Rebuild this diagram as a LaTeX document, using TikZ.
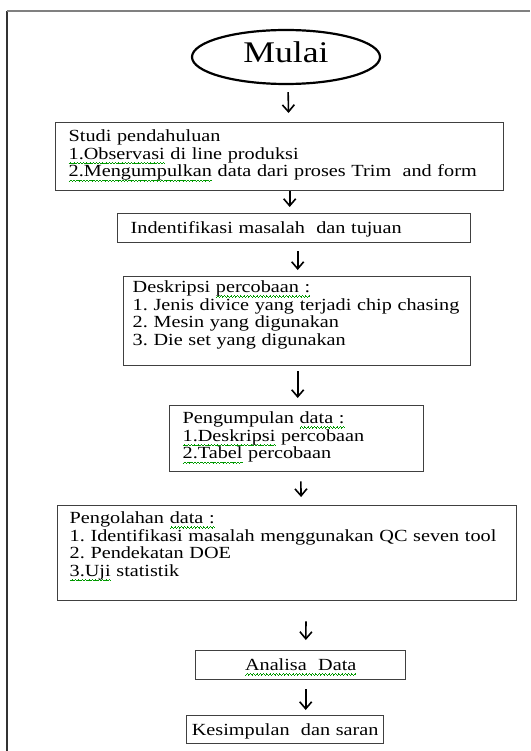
\documentclass[tikz,border=0pt]{standalone}
\usepackage{fontspec}
\setmainfont{Liberation Serif}[FakeStretch=1.19]
\usetikzlibrary{shapes.geometric,arrows.meta}
\frenchspacing
\hyphenpenalty=10000

\newsavebox{\spellbox}
\newcommand{\spell}[1]{\leavevmode\sbox{\spellbox}{#1}\rlap{\textcolor{green!60!black}{\hbox to \wd\spellbox{\xleaders\hbox{\rule[-4.6pt]{0.8pt}{0.7pt}\rule[-4pt]{0.8pt}{0.7pt}\rule[-3.4pt]{0.8pt}{0.7pt}\rule[-4pt]{0.8pt}{0.7pt}}\hfill}}}#1}

\begin{document}
\begin{tikzpicture}[
		x=1pt, y=-1pt,
		box/.style={rectangle, draw=black!75, line width=1.4pt, inner xsep=13pt, inner ysep=0pt, anchor=north west, align=left, font=\fontsize{17pt}{17.6pt}\selectfont},
		startnode/.style={ellipse, draw, line width=2.2pt, minimum width=188pt, minimum height=54pt, inner sep=0pt, font=\fontsize{30pt}{32pt}\selectfont},
		arr/.style={-{Straight Barb[length=7pt,width=12pt]}, line width=1.6pt}
	]
  \useasboundingbox (0,0) rectangle (530,751);
  \draw [black!80, line width=1.5pt] (7,751) -- (7,11);
  \draw [black!50, line width=1.5pt] (7,11) -- (530,11);
  \node (mulai) [startnode, text depth=10pt] at (286,57) {Mulai};
  \node (studi) [box, text width=422pt, text height=19pt, text depth=49pt] at (55,122) {Studi pendahuluan\\ \spell{1.Observasi} di line produksi\\ \spell{2.Mengumpulkan} data dari proses Trim\ \ and form};
  \node (ident) [box, text width=327pt, text height=20pt, text depth=9pt] at (117,213) {Indentifikasi masalah\ \ dan tujuan};
  \node (desk) [box, inner xsep=9pt, text width=329pt, text height=16pt, text depth=73pt] at (123,276) {Deskripsi \spell{percobaan :}\\ 1. Jenis divice yang terjadi chip chasing\\ 2. Mesin yang digunakan\\ 3. Die set yang digunakan};
  \node (kumpul) [box, text width=228pt, text height=18pt, text depth=48pt] at (169,405) {Pengumpulan \spell{data :}\\ \spell{1.Deskripsi} percobaan\\ \spell{2.Tabel} percobaan};
  \node (olah) [box, inner xsep=12pt, text width=435pt, text height=18pt, text depth=77pt] at (57,505) {Pengolahan \spell{data :}\\ 1. Identifikasi masalah menggunakan QC seven tool\\ 2. Pendekatan DOE\\ \spell{3.Uji} statistik};
  \node (analisa) [box, align=center, text width=184pt, text height=20pt, text depth=9pt] at (195,650) {\spell{Analisa\ \ Data}};
  \node (simpul) [box, align=center, inner xsep=4pt, text width=189pt, text height=20pt, text depth=8pt] at (186,715) {Kesimpulan\ \ dan saran};
  \draw [arr, shorten <=7pt, shorten >=9pt] ([xshift=2pt]mulai.south) -- ([xshift=9pt]studi.north);
  \draw [arr, shorten >=6pt] ([xshift=10pt]studi.south) -- ([xshift=-4.5pt]ident.north);
  \draw [arr, shorten <=8pt, shorten >=6pt] ([xshift=3.5pt]ident.south) -- ([xshift=0.5pt]desk.north);
  \draw [arr, shorten <=5pt, shorten >=7pt] ([xshift=0.5pt]desk.south) -- ([xshift=1pt]kumpul.north);
  \draw [arr, shorten <=9pt, shorten >=8pt] ([xshift=4pt]kumpul.south) -- ([xshift=14pt]olah.north);
  \draw [arr, shorten <=20pt, shorten >=10pt] ([xshift=19pt]olah.south) -- ([xshift=5pt]analisa.north);
  \draw [arr, shorten <=9pt, shorten >=5pt] ([xshift=5pt]analisa.south) -- ([xshift=20.5pt]simpul.north);
\end{tikzpicture}
\end{document}
